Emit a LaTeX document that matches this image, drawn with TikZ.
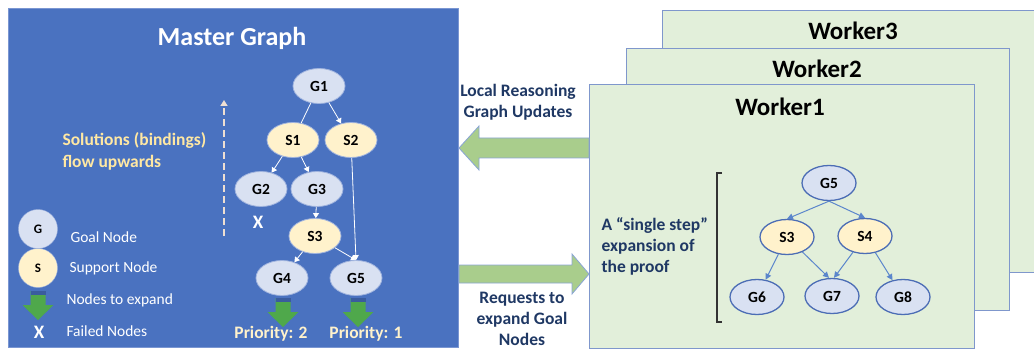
\documentclass[tikz,border=0pt]{standalone}
\usepackage{fontspec}
\setmainfont{Carlito}
\usetikzlibrary{shapes.geometric,arrows.meta}

\definecolor{masterblue}{HTML}{4A72C0}
\definecolor{masteredge}{HTML}{7A96D2}
\definecolor{goalfill}{HTML}{D9E1F2}
\definecolor{goaledge}{HTML}{9FB3DE}
\definecolor{suppfill}{HTML}{FFF2CC}
\definecolor{workerfill}{HTML}{E2EFDA}
\definecolor{workeredge}{HTML}{7F97CC}
\definecolor{navytext}{HTML}{1F3864}
\definecolor{flowgreen}{HTML}{A9CD8C}
\definecolor{flowedge}{HTML}{8AA5D6}
\definecolor{expgreen}{HTML}{4FA84B}
\definecolor{expstrip}{HTML}{3A5C9E}
\definecolor{soltext}{HTML}{FFE8A3}
\definecolor{prio}{HTML}{FFF2CC}
\definecolor{nodeblue}{HTML}{4C6DB5}
\definecolor{edgeblue}{HTML}{5B86CC}
\definecolor{dashcol}{HTML}{EFDFD2}

\tikzset{
  fs/.style={font=\bfseries\fontsize{#1}{#1}\selectfont},
  mgoal/.style={ellipse, draw=goaledge, fill=goalfill, line width=0.8,
    minimum width=52, minimum height=35, inner sep=0, fs=15.5},
  msupp/.style={mgoal, fill=suppfill},
  wgoal/.style={ellipse, draw=nodeblue, fill=goalfill, line width=1.3,
    minimum width=54, minimum height=35, inner sep=0, fs=15.5},
  wsupp/.style={wgoal, fill=suppfill},
  medge/.style={draw=white, line width=0.8, -{Triangle[length=5pt,width=6pt]}},
  wedge/.style={draw=edgeblue, line width=1, -{Triangle[length=6pt,width=6pt]}},
  workerbox/.style={draw=workeredge, fill=workerfill, line width=1.4,
    anchor=north west, inner sep=0},
  bigarrow/.style={fill=flowgreen, draw=flowedge, line width=0.8},
  legtext/.style={anchor=west, text=white, font=\fontsize{15.5}{15.5}\selectfont},
  labtext/.style={text=navytext, align=center, font=\bfseries\fontsize{17.5}{21}\selectfont},
  failmark/.style={text=white, fs=19},
  expand/.pic={
    \fill[expgreen] (-7.5,0) -- (7.5,0) -- (7.5,14) -- (15.5,14) -- (0,29)
      -- (-15.5,14) -- (-7.5,14) -- cycle;
    \fill[expstrip] (-7.5,0) rectangle (7.5,4);
  }
}

\begin{document}
\begin{tikzpicture}[x=1pt,y=-1pt]
\useasboundingbox (0,0) rectangle (1034,350);
\clip (0,0) rectangle (1034,350);

% ---------- master side ----------
\node[draw=masteredge, fill=masterblue, line width=1, anchor=north west,
      minimum width=450, minimum height=339, inner sep=0] (master) at (8,8) {};
\node[text=white, fs=26] (mtitle) at (232,38) {Master Graph};

\node[mgoal] (G1) at (319,86) {G1};
\node[msupp] (S1) at (293,140) {S1};
\node[msupp] (S2) at (351,140) {S2};
\node[mgoal] (G2) at (261,189) {G2};
\node[mgoal] (G3) at (317,189) {G3};
\node[msupp] (S3) at (315,236) {S3};
\node[mgoal] (G4) at (282,278) {G4};
\node[mgoal] (G5) at (356,278) {G5};
\node[failmark] (x2) at (258,222) {X};

\draw[draw=white, line width=0.8] (G1) -- (S1);
\draw[medge] (G1) -- (S2);
\draw[medge] (S1) -- (G2);
\draw[medge] (S1) -- (G3);
\draw[medge] (G3) -- (S3);
\draw[medge] (S3) -- (G4);
\draw[medge] (S3) -- (G5.north);
\draw[medge] (S2) -- (G5.north);

\pic at (283,298) {expand};
\pic at (358,298) {expand};
\node[text=prio, fs=17.5] (p2) at (271,334) {Priority: 2};
\node[text=prio, fs=17.5] (p1) at (366,334) {Priority: 1};

% flow of solutions
\coordinate (solbot) at (224,236);
\coordinate (soltop) at (224,100);
\draw[dashcol, line width=2, dash pattern=on 7pt off 4pt,
      -{Triangle[length=6pt,width=7pt]}] (solbot) -- (soltop);
\node[anchor=west, align=left, text=soltext,
      font=\bfseries\fontsize{17.5}{22}\selectfont] (sol) at (59,151)
      {Solutions (bindings)\\flow upwards};

% legend
\node[circle, draw=goaledge, fill=goalfill, minimum size=39, inner sep=0, fs=13]
  (lg) at (38,229) {G};
\node[circle, draw=goaledge, fill=suppfill, minimum size=39, inner sep=0, fs=13]
  (ls) at (38,268) {S};
\pic at (38,291) {expand};
\node[failmark] (lx) at (39,332) {X};
\node[legtext] (tg) at (67,237) {Goal Node};
\node[legtext] (ts) at (66,268) {Support Node};
\node[legtext] (te) at (63,300) {Nodes to expand};
\node[legtext] (tf) at (63,331) {Failed Nodes};

% ---------- workers ----------
\node[workerbox, minimum width=385, minimum height=262] (w3) at (662,10) {};
\node[fs=25] (w3t) at (853,31) {Worker3};
\node[workerbox, minimum width=383, minimum height=262] (w2) at (626,48) {};
\node[fs=25] (w2t) at (817,69) {Worker2};
\node[workerbox, minimum width=385, minimum height=264] (w1) at (589,84) {};
\node[fs=25] (w1t) at (780,107) {Worker1};

\node[labtext, align=left, anchor=west] (single) at (598,246)
  {A “single step”\\expansion of\\the proof};
\draw[line width=1.2, black!80] (722,173) -- (717,173) -- (717,322) -- (722,322);

\node[wgoal] (H5) at (829,183) {G5};
\node[wsupp] (H3) at (787,237) {S3};
\node[wsupp] (H4) at (865,236) {S4};
\node[wgoal] (H6) at (757,297) {G6};
\node[wgoal] (H7) at (832,296) {G7};
\node[wgoal] (H8) at (903,297) {G8};

\draw[wedge] (H5.south) -- (H3.north);
\draw[wedge] (H5.south) -- (H4.north);
\draw[wedge] (H3) -- (H6);
\draw[wedge] (H3) -- ([xshift=-3pt]H7.north);
\draw[wedge] (H4) -- ([xshift=2pt]H7.north);
\draw[wedge] (H4) -- (H8);

% ---------- exchange between master and workers ----------
\node[labtext] (upd) at (518,102) {Local Reasoning\\Graph Updates};
\node[labtext] (req) at (522,319) {Requests to\\expand Goal\\Nodes};

\draw[bigarrow] (w1.west |- 0,138) -- (479,138) -- (479,126) -- (master.east |- 0,148)
  -- (479,170) -- (479,158) -- (w1.west |- 0,158) -- cycle;
\draw[bigarrow] (master.east |- 0,265) -- (572,265) -- (572,254) -- (w1.west |- 0,274)
  -- (572,294) -- (572,283) -- (master.east |- 0,283) -- cycle;
\end{tikzpicture}
\end{document}
